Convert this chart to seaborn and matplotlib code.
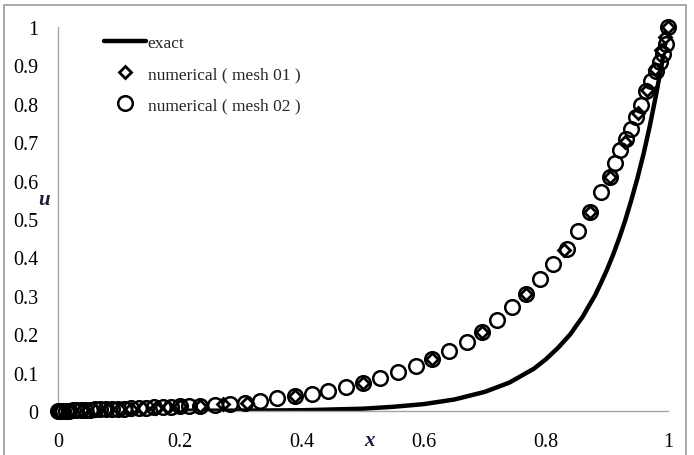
import numpy as np
import pandas as pd
import seaborn as sns
import matplotlib.pyplot as plt
from matplotlib.patches import Rectangle

# valores
x_exact = [0.0, 0.3, 0.4, 0.5, 0.55, 0.6, 0.65, 0.7, 0.74, 0.78, 0.8, 0.82, 0.84,
           0.85, 0.86, 0.87, 0.88, 0.89, 0.9, 0.91, 0.92, 0.93, 0.94, 0.95, 0.96,
           0.97, 0.98, 0.99, 1.0]
u_exact = [0.0, 0.001, 0.002, 0.006, 0.011, 0.018, 0.03, 0.05, 0.074, 0.11, 0.135,
           0.165, 0.2, 0.223, 0.245, 0.273, 0.3, 0.333, 0.368, 0.407, 0.45, 0.497,
           0.55, 0.607, 0.67, 0.741, 0.82, 0.905, 1.0]

x_mesh01 = [0.0, 0.02, 0.04, 0.06, 0.08, 0.1, 0.12, 0.14, 0.16, 0.18, 0.2, 0.233,
            0.27, 0.31, 0.389, 0.5, 0.613, 0.695, 0.767, 0.83, 0.872, 0.905, 0.93,
            0.95, 0.965, 0.978, 0.988, 0.995, 1.0]
u_mesh01 = [0.0, 0.001, 0.002, 0.003, 0.004, 0.005, 0.006, 0.007, 0.008, 0.01, 0.012,
            0.014, 0.017, 0.021, 0.038, 0.072, 0.135, 0.206, 0.305, 0.42, 0.518,
            0.609, 0.70, 0.775, 0.835, 0.89, 0.94, 0.975, 1.0]

x_mesh02 = [0, 0.004, 0.008, 0.013, 0.018, 0.024, 0.03, 0.037, 0.044, 0.052, 0.06,
            0.069, 0.078, 0.088, 0.098, 0.109, 0.12, 0.132, 0.145, 0.158, 0.172,
            0.186, 0.2, 0.215, 0.233, 0.257, 0.282, 0.307, 0.331, 0.359, 0.389,
            0.416, 0.443, 0.472, 0.5, 0.528, 0.557, 0.587, 0.613, 0.641, 0.67,
            0.695, 0.72, 0.744, 0.767, 0.79, 0.811, 0.834, 0.852, 0.872, 0.89,
            0.905, 0.913, 0.921, 0.931, 0.939, 0.948, 0.956, 0.964, 0.972, 0.98,
            0.987, 0.992, 0.996, 1.0]
u_mesh02 = [0, 0.0002, 0.0005, 0.0008, 0.001, 0.0015, 0.002, 0.0025, 0.003, 0.0035,
            0.004, 0.0045, 0.005, 0.0055, 0.006, 0.0065, 0.007, 0.0078, 0.0085,
            0.0093, 0.01, 0.011, 0.012, 0.013, 0.014, 0.016, 0.018, 0.021, 0.027,
            0.034, 0.04, 0.045, 0.053, 0.063, 0.072, 0.086, 0.102, 0.117, 0.135,
            0.156, 0.18, 0.206, 0.238, 0.27, 0.305, 0.344, 0.383, 0.422, 0.469,
            0.518, 0.57, 0.609, 0.646, 0.68, 0.708, 0.734, 0.766, 0.797, 0.833,
            0.859, 0.885, 0.909, 0.93, 0.957, 1.0]

x_ticks = [0, 0.2, 0.4, 0.6, 0.8, 1]
y_ticks = [0, 0.1, 0.2, 0.3, 0.4, 0.5, 0.6, 0.7, 0.8, 0.9, 1]

sns.set_style("white")
plt.rcParams['font.family'] = ['Liberation Serif', 'DejaVu Serif']

fig = plt.figure(figsize=(6.94, 4.56), dpi=100)
ax = fig.add_axes([58 / 694, 1 - 412 / 456, 610 / 694, 384 / 456])

GRIS = '#a6a6a6'

sns.lineplot(x=x_exact, y=u_exact, ax=ax, color='black', linewidth=3.2,
             sort=False, estimator=None, label='exact', zorder=2)
sns.lineplot(x=x_mesh01, y=u_mesh01, ax=ax, linestyle='', marker='D',
             markersize=6.5, markerfacecolor='white', markeredgecolor='black',
             markeredgewidth=2, sort=False, estimator=None,
             label='numerical ( mesh 01 )', clip_on=False, zorder=3)
sns.lineplot(x=x_mesh02, y=u_mesh02, ax=ax, linestyle='', marker='o',
             markersize=10.5, markerfacecolor='none', markeredgecolor='black',
             markeredgewidth=1.8, sort=False, estimator=None,
             label='numerical ( mesh 02 )', clip_on=False, zorder=4)

ax.set_xlim(0, 1)
ax.set_ylim(0, 1)
ax.set_xticks(x_ticks)
ax.set_xticklabels(['0', '0.2', '0.4', '0.6', '0.8', '1'])
ax.set_yticks(y_ticks)
ax.set_yticklabels(['0', '0.1', '0.2', '0.3', '0.4', '0.5', '0.6', '0.7', '0.8', '0.9', '1'])
ax.tick_params(axis='both', direction='out', length=5, width=1, color=GRIS,
               labelsize=14.5, pad=9, labelcolor='black')
ax.tick_params(axis='x', pad=10)
for lado in ['top', 'right']:
    ax.spines[lado].set_visible(False)
for lado in ['left', 'bottom']:
    ax.spines[lado].set_color(GRIS)
    ax.spines[lado].set_linewidth(1)
ax.set_xlabel('')
ax.set_ylabel('')

ax.legend(loc='upper left', bbox_to_anchor=(0.05, 1.02), frameon=False,
          fontsize=12.5, handlelength=2.4, handletextpad=0.1, labelspacing=0.85)

fig.text(44 / 694, 1 - 200 / 456, 'u', fontsize=15, style='italic',
         weight='bold', color='#1c1c40', ha='center', va='center')
fig.text(370 / 694, 1 - 441 / 456, 'x', fontsize=15, style='italic',
         weight='bold', color='#1c1c40', ha='center', va='center')

# marco exterior
fig.patches.append(Rectangle((4 / 694, -0.05), 682 / 694, 1.05 - 6 / 456,
                             transform=fig.transFigure, fill=False,
                             edgecolor='#9a9a9a', linewidth=1.2))

fig.savefig('out.png', dpi=100)
